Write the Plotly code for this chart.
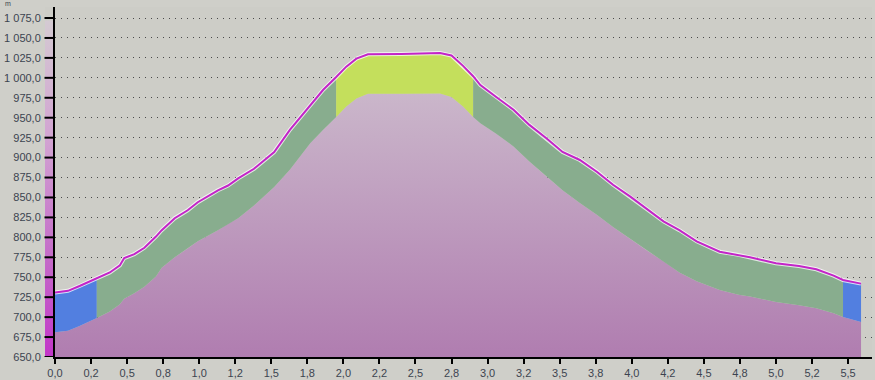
import plotly.graph_objects as go

# ---- data (km, metres) ----
dist_km = [0, 0.09, 0.17, 0.29, 0.38, 0.45, 0.48, 0.55, 0.62, 0.70, 0.74, 0.83, 0.92, 0.99,
           1.13, 1.20, 1.27, 1.38, 1.52, 1.63, 1.77, 1.86, 1.95, 2.02, 2.09, 2.17, 2.40,
           2.67, 2.75, 2.83, 2.90, 2.95, 3.06, 3.18, 3.29, 3.41, 3.52, 3.64, 3.76, 3.87,
           3.99, 4.10, 4.22, 4.33, 4.45, 4.61, 4.74, 4.82, 5.00, 5.16, 5.28, 5.40, 5.465, 5.59]
upper_m = [731, 733, 739, 749, 756, 765, 774, 779, 787, 801, 809, 824, 834, 844,
           859, 865, 874, 886, 907, 935, 966, 985, 1001, 1014, 1024, 1029.5, 1030,
           1031, 1028, 1015, 1002, 991, 976, 960, 941, 924, 907, 897, 882, 866,
           851, 836, 820, 809, 795, 782, 778, 775, 767.5, 764, 760, 752, 746.5, 742]
lower_m = [681, 683, 689, 699, 707, 716, 723, 730, 738, 751, 762, 775, 786, 795,
           809, 817, 824, 840, 863, 885, 918, 935, 951, 964, 974, 980, 980,
           980.5, 976, 964, 951, 943, 930, 914, 895, 876, 859, 843, 828, 813,
           798, 784, 770, 756, 745, 734, 728, 726, 719, 715, 711, 705, 700, 694]

# band segments: [start_km, end_km]
segments = [(0, 0.29), (0.29, 1.95), (1.95, 2.90), (2.90, 5.465), (5.465, 5.59)]
segment_colors = ["#527fe0", "#88ad8e", "#c4df5c", "#88ad8e", "#527fe0"]

x_tickvals = [0, 0.25, 0.5, 0.75, 1.0, 1.25, 1.5, 1.75, 2.0, 2.25, 2.5, 2.75, 3.0,
              3.25, 3.5, 3.75, 4.0, 4.25, 4.5, 4.75, 5.0, 5.25, 5.5]
x_ticktext = ["0,0", "0,2", "0,5", "0,8", "1,0", "1,2", "1,5", "1,8", "2,0", "2,2", "2,5",
              "2,8", "3,0", "3,2", "3,5", "3,8", "4,0", "4,2", "4,5", "4,8", "5,0", "5,2", "5,5"]
y_tickvals = [650, 675, 700, 725, 750, 775, 800, 825, 850, 875, 900, 925, 950, 975,
              1000, 1025, 1050, 1075]

W, H = 875, 380
ML, MR, MT, MB = 0, 3, 7, 23
PW = W - ML - MR
PH = H - MT - MB

fig = go.Figure()

# left colour strip (decorative scale next to y axis) on its own narrow subplot
fig.add_trace(go.Scatter(
    x=[0, 1, 1, 0, 0], y=[650, 650, 1072, 1072, 650], xaxis="x", yaxis="y",
    mode="none", fill="toself",
    fillgradient=dict(type="vertical", start=650, stop=1072,
                      colorscale=[[0, "#c236c8"], [0.3, "#c46cc8"], [0.65, "#d2a4d2"], [1, "#d4cad2"]]),
    hoverinfo="skip", showlegend=False))

# terrain (pink) area under lower line
fig.add_trace(go.Scatter(
    x=dist_km, y=lower_m, xaxis="x2", mode="none", fill="tozeroy",
    fillgradient=dict(type="vertical", start=650, stop=990,
                      colorscale=[[0, "#b07db0"], [1, "#cbb8cb"]]),
    hoverinfo="skip", showlegend=False))

# coloured bands between lower and upper
for (a, b), col in zip(segments, segment_colors):
    idx = [i for i, d in enumerate(dist_km) if a - 1e-9 <= d <= b + 1e-9]
    xs = [dist_km[i] for i in idx]
    fig.add_trace(go.Scatter(x=xs, y=[lower_m[i] for i in idx], xaxis="x2", mode="lines",
                             line=dict(width=0, color=col), hoverinfo="skip", showlegend=False))
    fig.add_trace(go.Scatter(x=xs, y=[upper_m[i] for i in idx], xaxis="x2", mode="lines",
                             line=dict(width=0, color=col), fill="tonexty", fillcolor=col,
                             hoverinfo="skip", showlegend=False))

# upper line with light halo
fig.add_trace(go.Scatter(x=dist_km, y=upper_m, xaxis="x2", mode="lines",
                         line=dict(color="rgba(255,255,255,0.75)", width=4),
                         hoverinfo="skip", showlegend=False))
fig.add_trace(go.Scatter(x=dist_km, y=upper_m, xaxis="x2", mode="lines",
                         line=dict(color="#c324c8", width=2),
                         showlegend=False))

# y tick marks drawn above the colour strip
tick_shapes = [dict(type="line", xref="paper", yref="y", x0=44.5 / PW, x1=55 / PW,
                    y0=v, y1=v, line=dict(color="#000000", width=2), layer="above")
               for v in y_tickvals]

fig.update_layout(
    width=W, height=H,
    margin=dict(l=ML, r=MR, t=MT, b=MB, pad=0),
    paper_bgcolor="#cfcfc9", plot_bgcolor="#cdcdc7",
    separators=", ",
    font=dict(family="Liberation Sans, Arial, sans-serif", size=11, color="#3c4450"),
    xaxis=dict(domain=[45 / PW, 54 / PW], range=[0, 1], anchor="y", visible=False),
    xaxis2=dict(domain=[55 / PW, 1], range=[0, 5.666], tickvals=x_tickvals, ticktext=x_ticktext,
                anchor="y",
                showgrid=False, zeroline=False, showline=True, linecolor="black", linewidth=2,
                ticks="outside", ticklen=5, tickwidth=2, tickcolor="black", automargin=False),
    yaxis=dict(range=[650, 1088.8], tickvals=y_tickvals, tickformat=",.1f", anchor="x2",
               showgrid=True, gridcolor="#4a4a4a", gridwidth=1, griddash="1px,5px",
               zeroline=False, showline=True, linecolor="black", linewidth=2,
               ticks="outside", ticklen=10, tickwidth=2, tickcolor="rgba(0,0,0,0)", automargin=False),
    shapes=tick_shapes,
    annotations=[dict(text="m", xref="paper", yref="paper", x=0.004, y=1 + 3 / PH,
                      xanchor="left", yanchor="middle", showarrow=False,
                      font=dict(size=7, color="#3c4450"))],
)

fig.write_html("out.html")
